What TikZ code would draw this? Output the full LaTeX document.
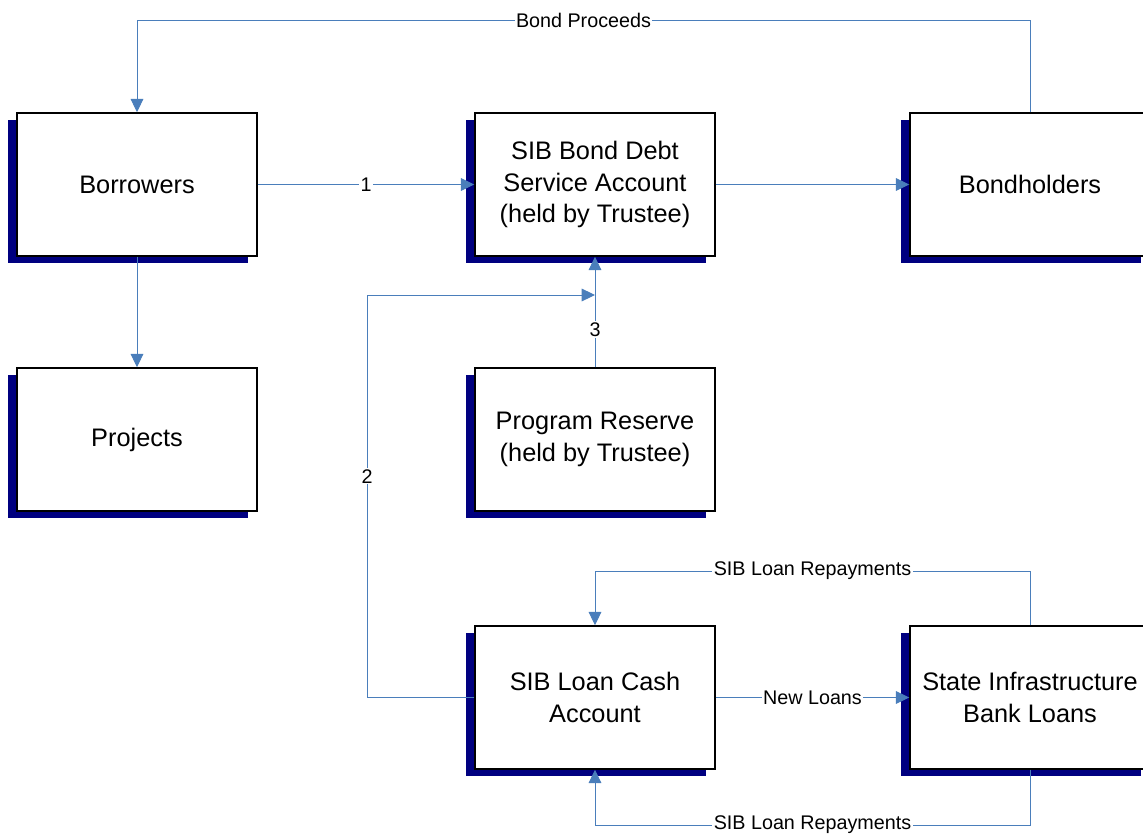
\documentclass[tikz,border=0pt]{standalone}
\usepackage{fontspec}
\setmainfont{Liberation Sans}
\usetikzlibrary{arrows.meta,shadows}
\definecolor{flowblue}{RGB}{74,126,187}
\definecolor{shadownavy}{RGB}{0,0,128}
\tikzset{
  box/.style={draw=black, line width=1.1pt, fill=white, minimum width=180pt, minimum height=107.25pt,
    align=center, font=\fontsize{19}{23.8}\selectfont, inner sep=0pt,
    drop shadow={shadow xshift=-6.4pt, shadow yshift=-5pt, fill=shadownavy, opacity=1}},
  flow/.style={draw=flowblue, line width=0.75pt, -{Triangle[length=10pt,width=9.5pt]}},
  lab/.style={fill=white, inner sep=1pt, font=\fontsize{14.8}{17}\selectfont, text=black}
}
\begin{document}
\begin{tikzpicture}[x=0.75pt,y=-0.75pt]
\useasboundingbox (0,0) rectangle (1143,835);
\clip (0,0) rectangle (1143,835);
\node[box] (bor) at (137,184.5) {Borrowers};
\node[box] (sib) at (595,184.5) {SIB Bond Debt\\Service Account\\(held by Trustee)};
\node[box] (bh) at (1030,184.5) {Bondholders};
\node[box] (proj) at (137,439.5) {Projects};
\node[box] (res) at (595,439.5) {Program Reserve\\(held by Trustee)};
\node[box] (cash) at (595,697.5) {SIB Loan Cash\\Account};
\node[box] (sibl) at (1030,697.5) {State Infrastructure\\Bank Loans};
\coordinate (top) at (0,20);
\coordinate (join) at (595,295);
\coordinate (left2) at (367,0);
\coordinate (rep1) at (0,571);
\coordinate (rep2) at (0,825);
% Bond proceeds
\draw[flow] (bh.north) -- (bh.north |- top) -- node[lab]{Bond Proceeds} (bor.north |- top) -- (bor.north);
% 1
\draw[flow] (bor.east) -- node[lab]{1} (sib.west);
\draw[flow] (sib.east) -- (bh.west);
\draw[flow] (bor.south) -- (proj.north);
% 3
\draw[flow] (res.north) -- node[lab, pos=0.34]{3} (sib.south);
% 2
\draw[flow] (cash.west) -- (cash.west -| left2) -- node[lab, pos=0.55]{2} (join -| left2) -- (join);
% New loans
\draw[flow] (cash.east) -- node[lab]{New Loans} (sibl.west);
% repayments
\draw[flow] (sibl.north) -- (sibl.north |- rep1) -- node[lab]{SIB Loan Repayments} (cash.north |- rep1) -- (cash.north);
\draw[flow] (sibl.south) -- (sibl.south |- rep2) -- node[lab]{SIB Loan Repayments} (cash.south |- rep2) -- (cash.south);
\end{tikzpicture}
\end{document}
